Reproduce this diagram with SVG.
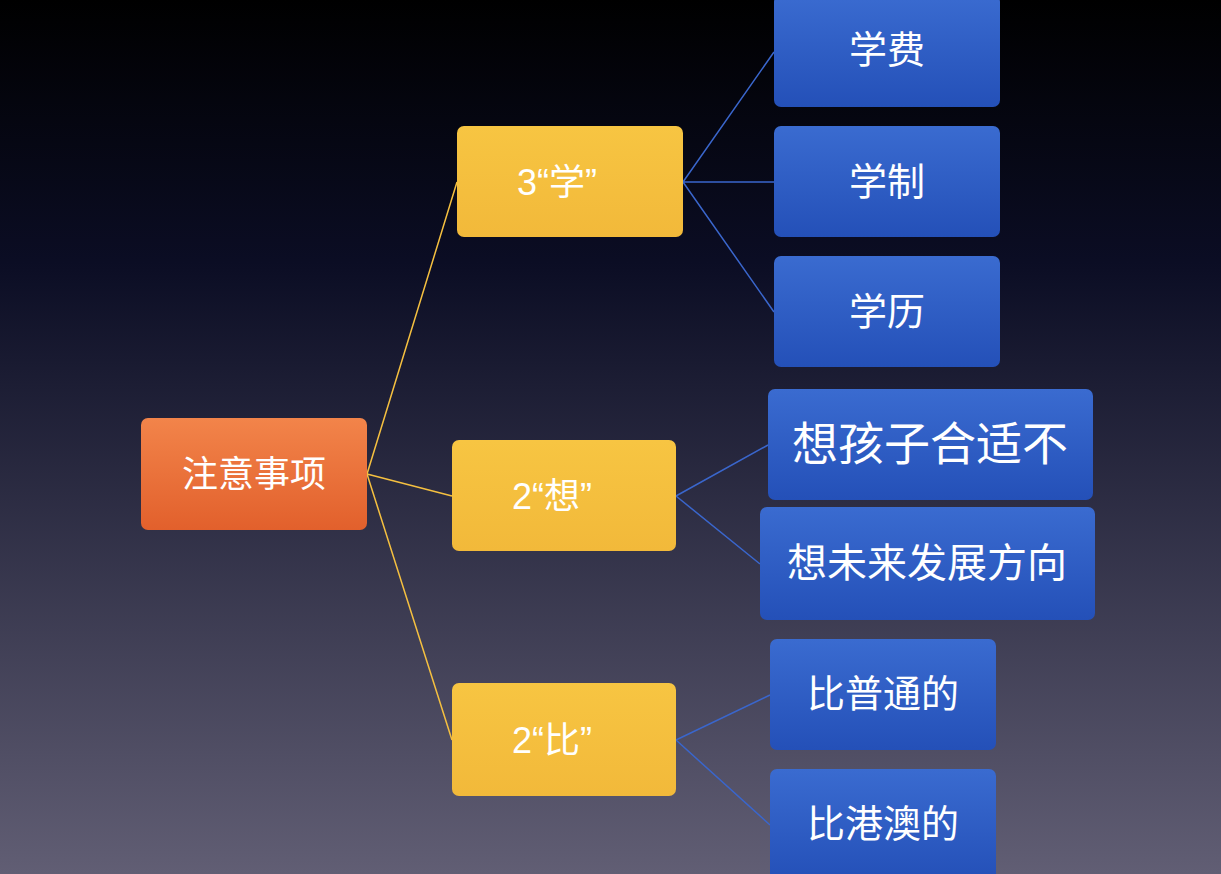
<svg xmlns="http://www.w3.org/2000/svg" width="1221" height="874" viewBox="0 0 1221 874">
<defs>
<linearGradient id="bg" x1="0" y1="0" x2="0" y2="1"><stop offset="0" stop-color="#000"/><stop offset="0.3" stop-color="#0b0d24"/><stop offset="1" stop-color="#615e74"/></linearGradient>
<linearGradient id="or" x1="0" y1="0" x2="0" y2="1"><stop offset="0" stop-color="#f2844a"/><stop offset="1" stop-color="#e2602c"/></linearGradient>
<linearGradient id="ye" x1="0" y1="0" x2="0" y2="1"><stop offset="0" stop-color="#f7c542"/><stop offset="1" stop-color="#f2b93a"/></linearGradient>
<linearGradient id="bl" x1="0" y1="0" x2="0" y2="1"><stop offset="0" stop-color="#3a6bd0"/><stop offset="1" stop-color="#2450b8"/></linearGradient>
<style>
text{font-family:"Liberation Sans","Noto Sans CJK SC",sans-serif;fill:#fff;text-anchor:middle;dominant-baseline:central}
.o{fill:url(#or)}.y{fill:url(#ye)}.b{fill:url(#bl)}
.ly{stroke:#f5c040;stroke-width:1.5;fill:none}.lb{stroke:#3a66cc;stroke-width:1.5;fill:none}
</style>
</defs>
<rect width="1221" height="874" fill="url(#bg)"/>
<g id="connectors">
<path class="ly" d="M367 474L457 182M367 474L452 496M367 474L452 740"/>
<path class="lb" d="M683 182L774 52M683 182L774 182M683 182L774 312M676 496L768 445M676 496L760 564M676 740L770 695M676 740L770 825"/>
</g>
<g id="root"><rect class="o" x="141" y="418" width="226" height="112" rx="7"/><text x="254" y="474" font-size="36">注意事项</text></g>
<g id="xue"><rect class="y" x="457" y="126" width="226" height="111" rx="7"/><text x="557" y="182" font-size="36">3“学”</text></g>
<g id="xiang"><rect class="y" x="452" y="440" width="224" height="111" rx="7"/><text x="552" y="496" font-size="36">2“想”</text></g>
<g id="bi"><rect class="y" x="452" y="683" width="224" height="113" rx="7"/><text x="552" y="740" font-size="36">2“比”</text></g>
<g id="xuefei"><rect class="b" x="774" y="-5" width="226" height="112" rx="7"/><text x="887" y="50" font-size="38">学费</text></g>
<g id="xuezhi"><rect class="b" x="774" y="126" width="226" height="111" rx="7"/><text x="887" y="182" font-size="38">学制</text></g>
<g id="xueli"><rect class="b" x="774" y="256" width="226" height="111" rx="7"/><text x="887" y="312" font-size="38">学历</text></g>
<g id="x1"><rect class="b" x="768" y="389" width="325" height="111" rx="7"/><text x="930" y="444" font-size="46">想孩子合适不</text></g>
<g id="x2"><rect class="b" x="760" y="507" width="335" height="113" rx="7"/><text x="927" y="563" font-size="40">想未来发展方向</text></g>
<g id="b1"><rect class="b" x="770" y="639" width="226" height="111" rx="7"/><text x="883" y="694" font-size="38">比普通的</text></g>
<g id="b2"><rect class="b" x="770" y="769" width="226" height="111" rx="7"/><text x="883" y="824" font-size="38">比港澳的</text></g>
</svg>
